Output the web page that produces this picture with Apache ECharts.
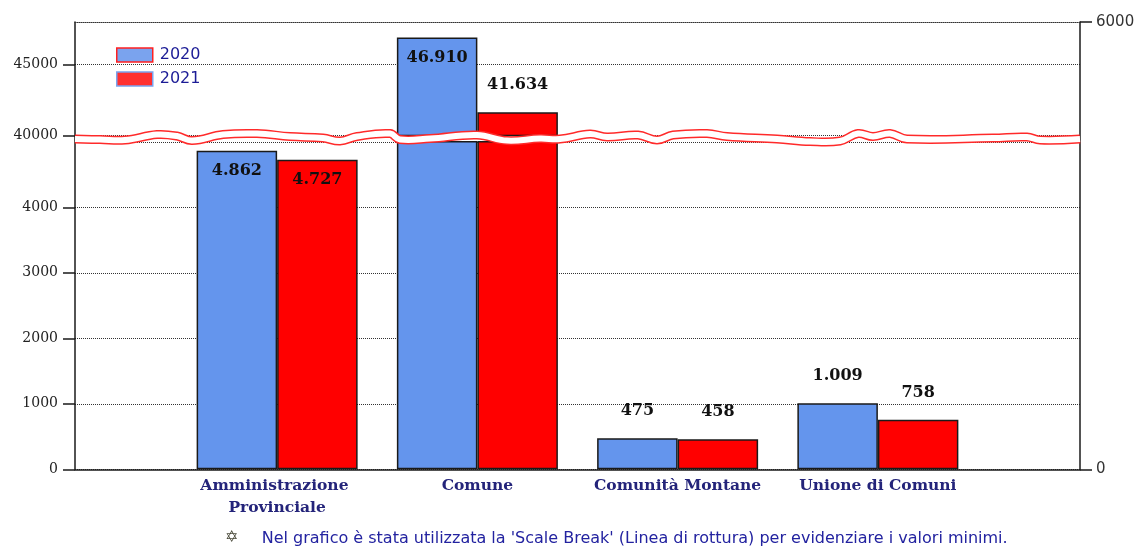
<!DOCTYPE html>
<html><head><meta charset="utf-8">
<script src="https://cdn.jsdelivr.net/npm/echarts@6/dist/echarts.min.js"></script>
<style>html,body{margin:0;padding:0;background:#fff}#c{width:1135px;height:552px}</style>
</head><body><div id="c"></div>
<script>
// ---- data ----
const categories = ['Amministrazione Provinciale', 'Comune', 'Comunità Montane', 'Unione di Comuni'];
const seriesNames = ['2020', '2021'];
const values2020 = [4862, 46910, 475, 1009];
const values2021 = [4727, 41634, 458, 758];
const lowerAxis = { min: 0, max: 5000, interval: 1000 };        // labels 0..4000
const upperAxis = { min: 40000, max: 48000, ticks: [40000, 45000] };
const rightAxis = { min: 0, max: 6000, interval: 6000 };
const noteText = "Nel grafico è stata utilizzata la 'Scale Break' (Linea di rottura) per evidenziare i valori minimi.";

// ---- layout ----
const L = 75, R = 1080, TOP = 22, UB = 135.5, LT = 141.8, BOT = 469.3;
const BL = 177, BW = 801;
const colors = ['#6495ED', '#FF0000'];

function fmt(v) { return String(v).replace(/\B(?=(\d{3})+(?!\d))/g, '.'); }
const plain = v => String(v);

function lowerData(vals) {
  return vals.map(v => {
    const show = v <= lowerAxis.max;
    const inside = (v - lowerAxis.min) / (lowerAxis.max - lowerAxis.min) > 0.7;
    return { value: v, label: { show, position: inside ? 'insideTop' : 'top', distance: inside ? 12 : 19 } };
  });
}
function upperData(vals) {
  return vals.map(v => {
    if (v < upperAxis.min) return '-';
    const inside = (v - upperAxis.min) / (upperAxis.max - upperAxis.min) > 0.7;
    return { value: v, label: { show: true, position: inside ? 'insideTop' : 'top', distance: inside ? 12 : 19 } };
  });
}

const labelStyle = { fontFamily: 'DejaVu Serif', fontWeight: 'bold', fontSize: 16, color: '#111', formatter: p => fmt(p.value) };
const allVals = [values2020, values2021];

const series = [];
allVals.forEach((vals, i) => {
  series.push({
    type: 'bar', name: seriesNames[i], xAxisIndex: 4, yAxisIndex: 4,
    data: lowerData(vals), barWidth: 80.5, barGap: '0%', clip: true,
    itemStyle: { color: colors[i], borderColor: '#1a1a1a', borderWidth: 1.5 },
    label: labelStyle
  });
  series.push({
    type: 'bar', name: seriesNames[i], xAxisIndex: 5, yAxisIndex: 5,
    data: upperData(vals), barWidth: 80.5, barGap: '0%', clip: true,
    itemStyle: { color: colors[i], borderColor: '#1a1a1a', borderWidth: 1.5 },
    label: labelStyle
  });
});

// ---- break band decoration ----
const waveX = [75,100,125,157,177,192,223,257,290,323,340,357,390,400,430,477,507,540,560,590,607,638,657,673,707,727,777,810,840,858,873,890,907,993,1027,1040,1080];
const waveDy = [0.4,0.9,1.4,-4.1,-2.6,1.9,-4.1,-5.1,-2.1,-0.6,2.4,-2.1,-5.1,0.9,-0.1,-3.6,1.9,-0.1,0.4,-4.6,-1.6,-3.6,1.4,-3.6,-5.1,-2.1,0.4,2.9,2.4,-5.1,-2.1,-5.1,0.4,-0.6,-1.6,1.4,0.4];
const breakY = (UB + LT) / 2;
const wavePts = waveX.map((x, i) => [x, breakY + waveDy[i]]);

const axisLineBlack = { show: true, onZero: false, lineStyle: { color: '#1a1a1a', width: 1.5 } };
const dotted = { show: true, lineStyle: { color: '#333', width: 1, type: 'dotted' } };
const dottedLine = { show: true, onZero: false, lineStyle: { color: '#333', width: 1, type: 'dotted' } };
const hiddenX = gi => ({ gridIndex: gi, type: 'value', min: 0, max: 1, show: false });

const option = {
  animation: false,
  backgroundColor: '#fff',
  grid: [
    { left: L, top: TOP, width: R - L, height: BOT - TOP, outerBoundsMode: 'none' },   // frame
    { left: L, top: LT, width: R - L, height: BOT - LT, outerBoundsMode: 'none' },     // lower axis
    { left: L, top: TOP, width: R - L, height: UB - TOP, outerBoundsMode: 'none' },    // upper axis
    { left: BL, top: LT, width: BW, height: BOT - LT, outerBoundsMode: 'none' },       // lower bars
    { left: BL, top: TOP, width: BW, height: UB - TOP, outerBoundsMode: 'none' }       // upper bars
  ],
  xAxis: [
    { gridIndex: 0, type: 'value', min: 0, max: 1, position: 'bottom', axisLine: axisLineBlack, axisTick: { show: false }, axisLabel: { show: false }, splitLine: { show: false } },
    { gridIndex: 0, type: 'value', min: 0, max: 1, position: 'top', axisLine: dottedLine, axisTick: { show: false }, axisLabel: { show: false }, splitLine: { show: false } },
    hiddenX(1),
    hiddenX(2),
    { gridIndex: 3, type: 'category', data: categories, axisLine: { show: false, onZero: false }, axisTick: { show: false }, splitLine: { show: false },
      axisLabel: { interval: 0, margin: 5, width: 190, overflow: 'break', fontFamily: 'DejaVu Serif', fontWeight: 'bold', fontSize: 15.5, lineHeight: 22.6, color: '#24247a' } },
    { gridIndex: 4, type: 'category', data: categories, show: false }
  ],
  yAxis: [
    { gridIndex: 0, type: 'value', min: 0, max: 1, position: 'left', axisLine: axisLineBlack, axisTick: { show: false }, axisLabel: { show: false }, splitLine: { show: false } },
    { gridIndex: 0, type: 'value', min: rightAxis.min, max: rightAxis.max, interval: rightAxis.interval, position: 'right',
      axisLine: axisLineBlack, axisTick: { show: true, length: 12, lineStyle: { color: '#1a1a1a', width: 1.5 } },
      axisLabel: { margin: 16, formatter: plain, fontFamily: 'DejaVu Sans', fontSize: 15, color: '#333' }, splitLine: { show: false } },
    { gridIndex: 1, type: 'value', min: lowerAxis.min, max: lowerAxis.max, interval: lowerAxis.interval,
      axisLine: { show: false, onZero: false }, axisTick: { show: true, length: 12, lineStyle: { color: '#1a1a1a', width: 1.5 } },
      axisLabel: { showMaxLabel: false, formatter: plain, margin: 17, fontFamily: 'DejaVu Serif', fontSize: 14, color: '#222' },
      splitLine: dotted },
    { gridIndex: 2, type: 'value', min: upperAxis.min, max: upperAxis.max, interval: 5000,
      axisLine: { show: false, onZero: false }, axisTick: { show: true, length: 12, customValues: upperAxis.ticks, lineStyle: { color: '#1a1a1a', width: 1.5 } },
      axisLabel: { customValues: upperAxis.ticks, formatter: plain, margin: 17, fontFamily: 'DejaVu Serif', fontSize: 14, color: '#222' },
      splitLine: dotted },
    { gridIndex: 3, type: 'value', min: lowerAxis.min, max: lowerAxis.max, show: false },
    { gridIndex: 4, type: 'value', min: upperAxis.min, max: upperAxis.max, show: false }
  ],
  legend: {
    left: 111, top: 42, orient: 'vertical', itemWidth: 36, itemHeight: 14, itemGap: 8, selectedMode: false,
    icon: 'rect',
    textStyle: { fontFamily: 'DejaVu Sans', fontSize: 16, color: '#1c1c96', padding: [0, 0, 0, 2] },
    data: [
      { name: seriesNames[0], itemStyle: { color: '#7aa3ee', borderColor: '#ff2020', borderWidth: 1.5 } },
      { name: seriesNames[1], itemStyle: { color: '#ff3030', borderColor: '#7aa3ee', borderWidth: 1.5 } }
    ]
  },
  series: series,
  graphic: [
    { type: 'polyline', z: 100, shape: { points: wavePts, smooth: 0.4 }, style: { stroke: '#ff2a2a', lineWidth: 9, fill: null } },
    { type: 'polyline', z: 101, shape: { points: wavePts, smooth: 0.4 }, style: { stroke: '#ffffff', lineWidth: 6, fill: null } },
    { type: 'text', left: 225, top: 530, z: 100, style: { text: '✡', font: 'bold 16px "DejaVu Sans"', fill: '#4a4a3a' } },
    { type: 'text', left: 261.7, top: 531, z: 100, style: { text: noteText, font: '16px "DejaVu Sans"', fill: '#2323a0' } }
  ]
};

const chart = echarts.init(document.getElementById('c'), null, { renderer: 'canvas' });
chart.setOption(option);
</script>
</body></html>
